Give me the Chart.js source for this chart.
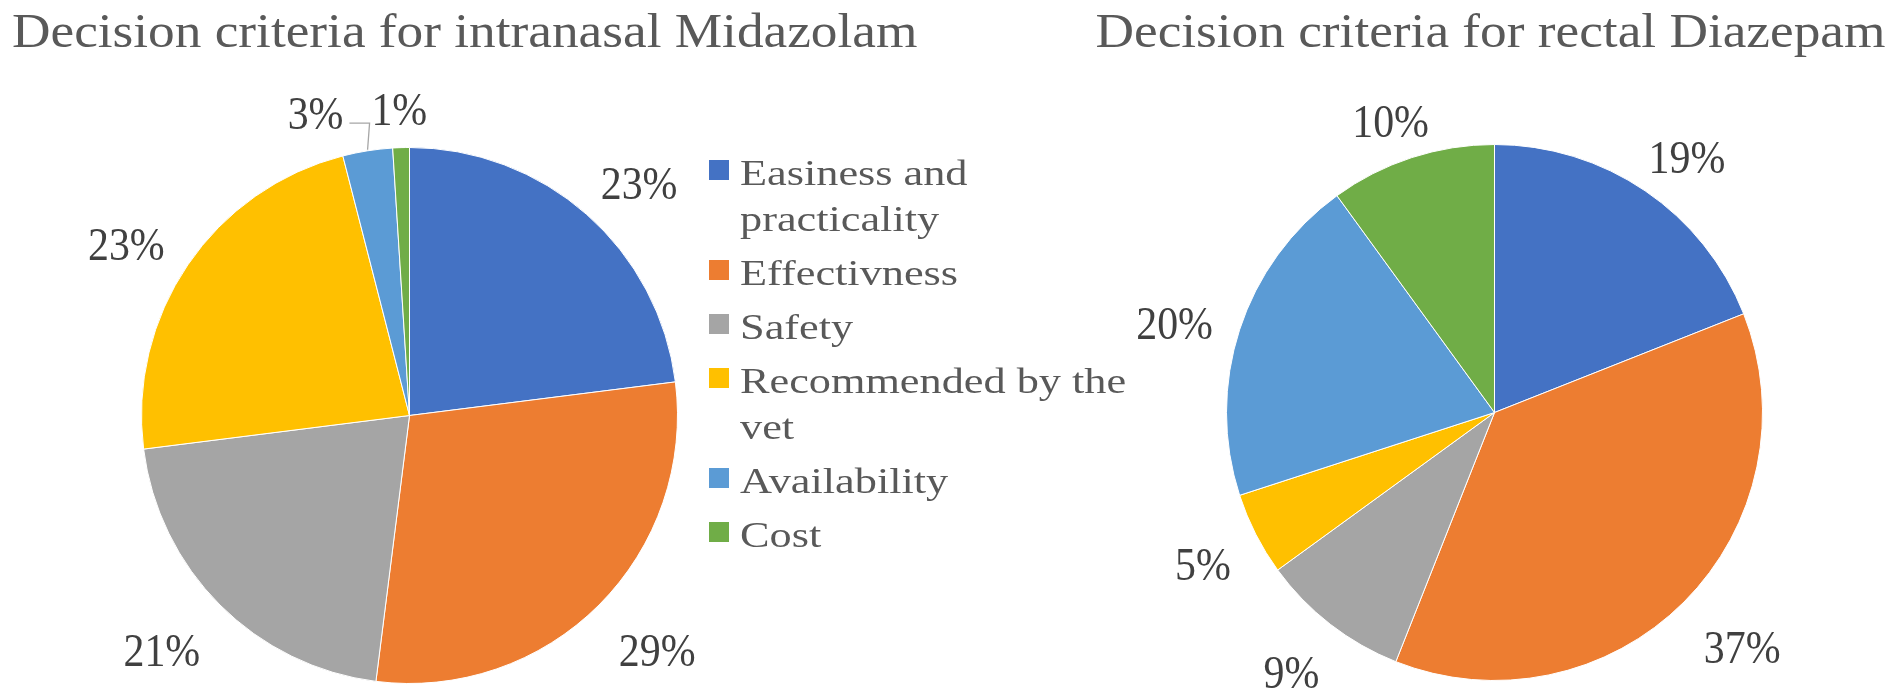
<!DOCTYPE html>
<html><head><meta charset="utf-8">
<script src="https://cdn.jsdelivr.net/npm/chart.js@4.4.1/dist/chart.umd.min.js"></script>
<style>
html,body{margin:0;padding:0;background:#fff;width:1901px;height:694px;overflow:hidden;}
.wrap{position:absolute;top:0;height:694px;}
#wa{left:0;width:1150px;}
#wb{left:1000px;width:901px;}
canvas{display:block;}
</style></head><body>
<div id="wa" class="wrap"><canvas id="ca" width="1150" height="694"></canvas></div>
<div id="wb" class="wrap"><canvas id="cb" width="901" height="694"></canvas></div>
<script>
// ---- data ----
const categories = ["Easiness and practicality", "Effectivness", "Safety", "Recommended by the vet", "Availability", "Cost"];
const midazolamValues = [23, 29, 21, 23, 3, 1];
const diazepamValues = [19, 37, 9, 5, 20, 10];
const sliceColors = ["#4472C4", "#ED7D31", "#A5A5A5", "#FFC000", "#5B9BD5", "#70AD47"];
const chartTitles = ["Decision criteria for intranasal Midazolam", "Decision criteria for rectal Diazepam"];

// ---- style ----
const SERIF = "'Liberation Serif','Times New Roman',serif";
const TITLE_FONT = "48px " + SERIF, TITLE_SCALE = 1.11, TITLE_COLOR = "#595959";
const LEGEND_FONT = "36px " + SERIF, LEGEND_SCALE = 1.23, LEGEND_COLOR = "#595959";
const LABEL_FS = 46, LABEL_FONT = LABEL_FS + "px " + SERIF, LABEL_SCALE = 0.91, LABEL_COLOR = "#404040";
const LABEL_GAP = 28, LABEL_H = 36, LABEL_DY = 8, LEADER_GAP = 28;

function drawTitle(ctx, text, x, baseline) {
  ctx.save();
  ctx.font = TITLE_FONT; ctx.fillStyle = TITLE_COLOR; ctx.textBaseline = "alphabetic";
  ctx.translate(x, baseline); ctx.scale(TITLE_SCALE, 1);
  ctx.fillText(text, 0, 0);
  ctx.restore();
}

function wrapText(ctx, text, maxW, scale) {
  const words = text.split(" "); const lines = []; let cur = "";
  for (const w of words) {
    const t = cur ? cur + " " + w : w;
    if (cur && ctx.measureText(t).width * scale > maxW) { lines.push(cur); cur = w; } else cur = t;
  }
  if (cur) lines.push(cur);
  return lines;
}

function drawLegend(chart, x, firstBaseline, lineH, itemGap, maxW) {
  const ctx = chart.ctx; const ds = chart.data.datasets[0];
  ctx.save();
  ctx.font = LEGEND_FONT; ctx.textBaseline = "alphabetic";
  let b = firstBaseline;
  chart.data.labels.forEach((lab, i) => {
    ctx.fillStyle = ds.backgroundColor[i];
    ctx.fillRect(x, b - 25, 20, 20);
    const lines = wrapText(ctx, lab, maxW, LEGEND_SCALE);
    ctx.fillStyle = LEGEND_COLOR;
    lines.forEach((ln, k) => {
      ctx.save(); ctx.translate(x + 31, b + k * lineH); ctx.scale(LEGEND_SCALE, 1);
      ctx.fillText(ln, 0, 0); ctx.restore();
    });
    b += lines.length * lineH + itemGap;
  });
  ctx.restore();
}

function drawLabels(chart) {
  const ctx = chart.ctx; const meta = chart.getDatasetMeta(0); const ds = chart.data.datasets[0];
  const total = ds.data.reduce((a, v) => a + v, 0);
  ctx.save();
  ctx.font = LABEL_FONT; ctx.textBaseline = "alphabetic"; ctx.textAlign = "center";
  const placed = [];
  for (let i = meta.data.length - 1; i >= 0; i--) {
    const p = meta.data[i].getProps(["x", "y", "startAngle", "endAngle", "outerRadius"], true);
    const mid = (p.startAngle + p.endAngle) / 2;
    const ux = Math.cos(mid), uy = Math.sin(mid);
    const m = Math.max(Math.abs(ux), Math.abs(uy));
    const text = Math.round(ds.data[i] / total * 100) + "%";
    const w = ctx.measureText(text).width * LABEL_SCALE, h = LABEL_H;
    let cx = p.x + (p.outerRadius + LABEL_GAP) * ux + (w / 2) * ux / m;
    let cy = p.y + (p.outerRadius + LABEL_GAP) * uy + (h / 2) * uy / m + LABEL_DY;
    let leader = false; const dir = ux < 0 ? -1 : 1;
    let moved = true, guard = 0;
    while (moved && guard++ < 10) {
      moved = false;
      for (const q of placed) {
        if (cx - w / 2 < q.r && cx + w / 2 > q.l && cy - h / 2 < q.b && cy + h / 2 > q.t) {
          cx = dir < 0 ? q.l - LEADER_GAP - w / 2 : q.r + LEADER_GAP + w / 2;
          leader = true; moved = true;
        }
      }
    }
    placed.push({ l: cx - w / 2, r: cx + w / 2, t: cy - h / 2, b: cy + h / 2 });
    if (leader) {
      const ax = p.x + p.outerRadius * ux, ay = p.y + p.outerRadius * uy;
      const sx = dir < 0 ? cx + w / 2 + 6 : cx - w / 2 - 6, ly = cy + 10;
      ctx.save();
      ctx.strokeStyle = "#A6A6A6"; ctx.lineWidth = 1.3;
      ctx.beginPath(); ctx.moveTo(sx, ly); ctx.lineTo(ax - dir * 2, ly); ctx.lineTo(ax, ay - 1); ctx.stroke();
      ctx.restore();
    }
    ctx.fillStyle = LABEL_COLOR;
    ctx.save();
    ctx.translate(cx, cy + 0.338 * LABEL_FS); ctx.scale(LABEL_SCALE, 1);
    ctx.fillText(text, 0, 0);
    ctx.restore();
  }
  ctx.restore();
}

function makeChart(id, values, title, titleX, padding, withLegend) {
  const decor = {
    id: "decor" + id,
    afterDraw(chart) {
      drawTitle(chart.ctx, title, titleX, 46.5);
      drawLabels(chart);
      if (withLegend) drawLegend(chart, 709, 185, 46, 8, 400);
    }
  };
  return new Chart(document.getElementById(id), {
    type: "pie",
    data: {
      labels: categories,
      datasets: [{ data: values, backgroundColor: sliceColors, borderColor: "#FFFFFF", borderWidth: 1 }]
    },
    options: {
      responsive: false, animation: false, devicePixelRatio: 1,
      layout: { padding: padding },
      plugins: { legend: { display: false }, title: { display: false }, tooltip: { enabled: false } }
    },
    plugins: [decor]
  });
}

makeChart("ca", midazolamValues, chartTitles[0], 12, { left: 141, right: 472, top: 147, bottom: 10 }, true);
makeChart("cb", diazepamValues, chartTitles[1], 95.5, { left: 226, right: 138, top: 144, bottom: 13 }, false);
</script>
</body></html>
